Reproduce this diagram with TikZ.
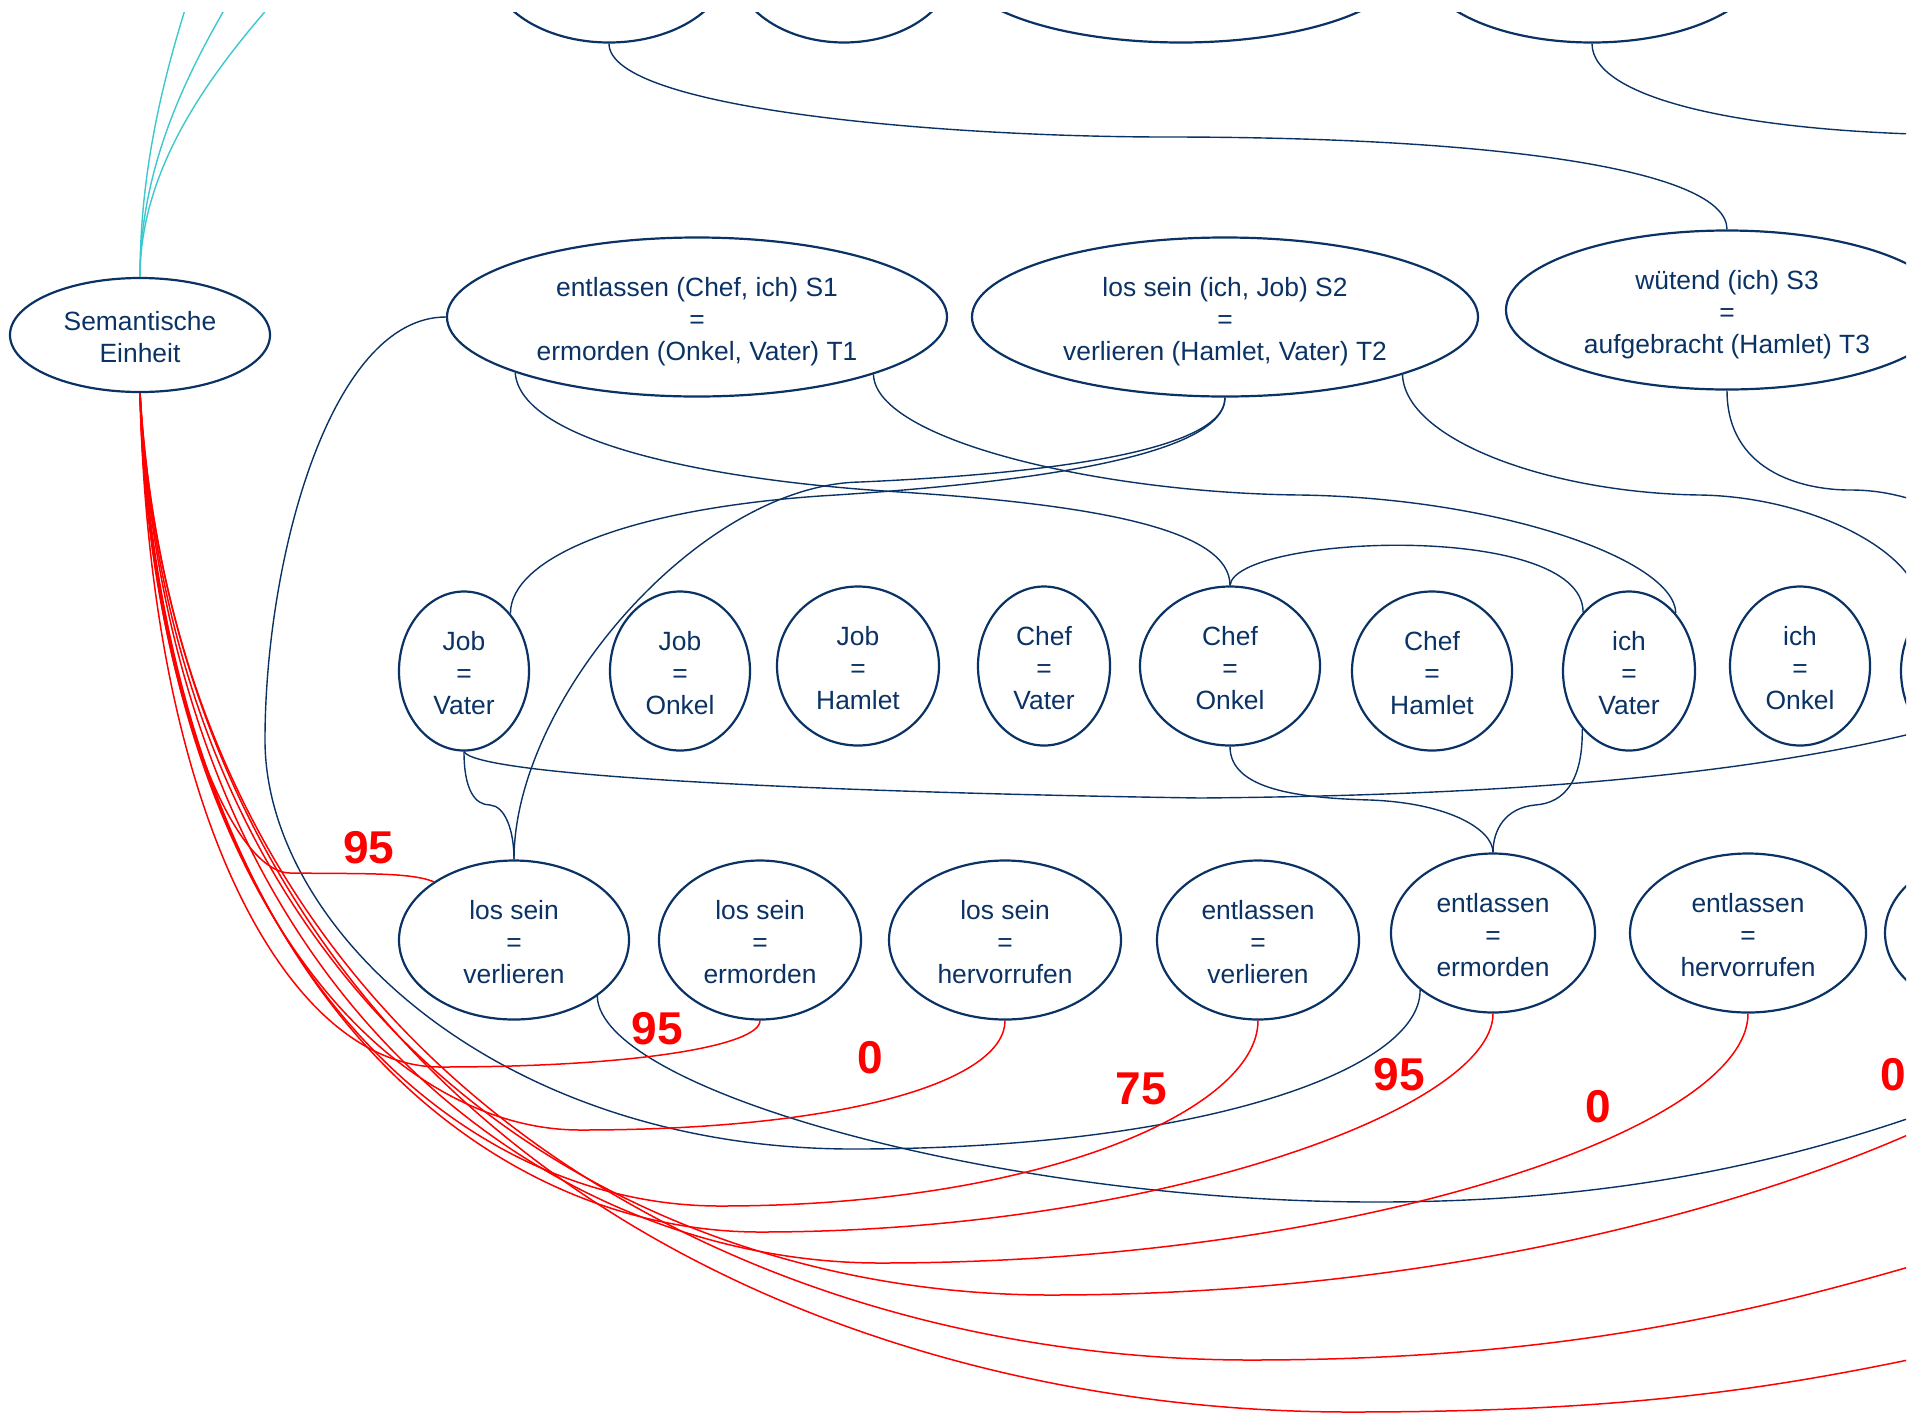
\documentclass[tikz,border=0pt]{standalone}
\usepackage{fontspec}
\setmainfont{Liberation Sans}
\usetikzlibrary{shapes.geometric}
\definecolor{navy}{RGB}{10,50,100}
\definecolor{tuerkis}{RGB}{60,200,205}

\begin{document}
\begin{tikzpicture}[x=0.5pt, y=-0.5pt,
    pair/.style={ellipse, draw=navy, line width=1.1pt, inner sep=0pt, minimum height=79.5pt,
      align=center, text=navy, font=\fontsize{13.2}{16}\selectfont},
    link/.style={navy, line width=0.7pt},
    rlink/.style={red, line width=0.75pt},
    score/.style={red, font=\fontsize{23}{23}\selectfont\bfseries}]
  \useasboundingbox (0,0) rectangle (1910,1414);

  \begin{scope}
    \clip (0,12) rectangle (1906,1414);

    % top row, only the lower rims are in view
    \node[pair, minimum width=120pt] (T1) at (609,-37) {};
    \node[pair, minimum width=111pt] (T2) at (844,-37) {};
    \node[pair, minimum width=225pt] (T3) at (1181,-37) {};
    \node[pair, minimum width=170pt] (T4) at (1592,-37) {};

    \node[pair, minimum width=130pt, minimum height=57pt] (sem) at (140,335) {\rule{0pt}{12pt}Semantische\\Einheit};
    \node[pair, minimum width=250pt] (S1) at (697,317) {\rule{0pt}{14pt}entlassen (Chef, ich) S1\\=\\ermorden (Onkel, Vater) T1};
    \node[pair, minimum width=253pt] (S2) at (1225,317) {\rule{0pt}{14pt}los sein (ich, Job) S2\\=\\verlieren (Hamlet, Vater) T2};
    \node[pair, minimum width=221pt] (S3) at (1727,310) {\rule{0pt}{14.5pt}wütend (ich) S3\\=\\aufgebracht (Hamlet) T3};

    % argument pairs
    \foreach \nd/\x/\y/\w/\lhs/\rhs in {
      JV/464/671/65/Job/Vater, JO/680/671/70/Job/Onkel, JH/858/666/81/Job/Hamlet,
      CV/1044/666/66/Chef/Vater, CO/1230/666/90/Chef/Onkel, CH/1432/671/80/Chef/Hamlet,
      IV/1629/671/66/ich/Vater, IO/1800/666/70/ich/Onkel}
      \node[pair, minimum width=\w pt] (\nd) at (\x,\y) {\rule{0pt}{12pt}\lhs\\=\\\rhs};
    \node[pair, minimum width=66pt] (IH) at (1967,671) {};

    % predicate pairs
    \foreach \nd/\x/\y/\w/\lhs/\rhs in {
      LV/514/940/115/los sein/verlieren, LE/760/940/101/los sein/ermorden,
      LH/1005/940/116/los sein/hervorrufen, EV/1258/940/101/entlassen/verlieren,
      EE/1493/933/102/entlassen/ermorden, EH/1748/933/118/entlassen/hervorrufen}
      \node[pair, minimum width=\w pt] (\nd) at (\x,\y) {\rule{0pt}{12pt}\lhs\\=\\\rhs};
    \node[pair, minimum width=110pt] (XB) at (1995,933) {};

    \coordinate (offT4) at (1960,135);
    \coordinate (offS3) at (1980,525);
    \coordinate (offJV) at (1980,715);
    \coordinate (offLV) at (1960,1100);
    \coordinate (offR7) at (2000,1090);
    \coordinate (offR8) at (2000,1240);
    \coordinate (offR9) at (2000,1340);

    % links upwards
    \foreach \i/\tx/\cx in {1/188/166, 2/230/189, 3/275/214} {
      \coordinate (up\i) at (\tx,0);
      \draw[tuerkis, line width=0.7pt] (sem.north) .. controls (140,165) and (\cx,70) .. (up\i);
    }

    % structure links
    \draw[link] (T1.south) .. controls (609,110) and (950,137) .. (1166,137) .. controls (1500,137) and (1727,170) .. (S3.north);
    \draw[link] (T4.south) .. controls (1592,100) and (1750,133) .. (offT4);
    \draw[link] (S1.west) .. controls (330,317) and (265,560) .. (265,740) .. controls (265,930) and (500,1149) .. (853,1149) .. controls (1200,1149) and (1421,1070) .. (EE.218);
    \draw[link] (S1.197.6) .. controls (520,440) and (700,480) .. (900,492) .. controls (1100,505) and (1230,530) .. (CO.north);
    \draw[link] (S1.342.5) .. controls (875,440) and (1100,493) .. (1300,495) .. controls (1500,498) and (1675,560) .. (IV.51.6);
    \draw[link] (S2.south) .. controls (1225,460) and (1000,485) .. (820,496) .. controls (620,510) and (510,560) .. (JV.51.6);
    \draw[link] (S2.south) .. controls (1225,455) and (1020,475) .. (860,482) .. controls (700,485) and (514,700) .. (LV.north);
    \draw[link] (S2.342.7) .. controls (1405,440) and (1550,493) .. (1700,495) .. controls (1820,497) and (1930,560) .. (IH.130);
    \draw[link] (S3.south) .. controls (1727,470) and (1800,490) .. (1850,490) .. controls (1890,490) and (1920,500) .. (offS3);
    \draw[link] (CO.north) .. controls (1235,535) and (1583,520) .. (IV.128.4);
    \draw[link] (JV.south) .. controls (464,790) and (475,805) .. (490,805) .. controls (505,806) and (514,830) .. (LV.north);
    \draw[link] (JV.south) .. controls (475,775) and (800,792) .. (1200,798) .. controls (1550,795) and (1800,770) .. (offJV);
    \draw[link] (CO.south) .. controls (1230,790) and (1300,798) .. (1370,800) .. controls (1450,803) and (1493,830) .. (EE.north);
    \draw[link] (IV.231.1) .. controls (1583,780) and (1565,803) .. (1535,805) .. controls (1505,808) and (1493,830) .. (EE.north);
    \draw[link] (LV.-34.3) .. controls (600,1090) and (1000,1202) .. (1376,1202) .. controls (1620,1202) and (1800,1160) .. (offLV);

    % scored links
    \draw[rlink] (sem.south) .. controls (145,650) and (225,872) .. (290,873) .. controls (360,874) and (410,872) .. (LV.144.7);
    \draw[rlink] (sem.south) .. controls (150,820) and (290,1067) .. (440,1067) .. controls (640,1067) and (760,1045) .. (LE.south);
    \draw[rlink] (sem.south) .. controls (155,880) and (380,1130) .. (580,1130) .. controls (850,1130) and (1005,1080) .. (LH.south);
    \draw[rlink] (sem.south) .. controls (160,950) and (450,1206) .. (720,1206) .. controls (1040,1206) and (1258,1110) .. (EV.south);
    \draw[rlink] (sem.south) .. controls (165,980) and (480,1232) .. (760,1232) .. controls (1150,1232) and (1493,1110) .. (EE.south);
    \draw[rlink] (sem.south) .. controls (170,1010) and (560,1263) .. (880,1263) .. controls (1350,1263) and (1748,1130) .. (EH.south);
    \draw[rlink] (sem.south) .. controls (175,1050) and (650,1295) .. (1050,1295) .. controls (1450,1295) and (1800,1200) .. (offR7);
    \draw[rlink] (sem.south) .. controls (180,1080) and (750,1360) .. (1250,1360) .. controls (1600,1360) and (1800,1300) .. (offR8);
    \draw[rlink] (sem.south) .. controls (185,1120) and (800,1412) .. (1350,1412) .. controls (1650,1412) and (1800,1385) .. (offR9);
  \end{scope}

  % scores
  \node[score] (w1) at (369,848) {95};
  \node[score] (w2) at (657,1029) {95};
  \node[score] (w3) at (870,1058) {0};
  \node[score] (w4) at (1141,1089) {75};
  \node[score] (w5) at (1399,1075) {95};
  \node[score] (w6) at (1598,1107) {0};
  \node[score] (w7) at (1893,1075) {0};
\end{tikzpicture}
\end{document}
